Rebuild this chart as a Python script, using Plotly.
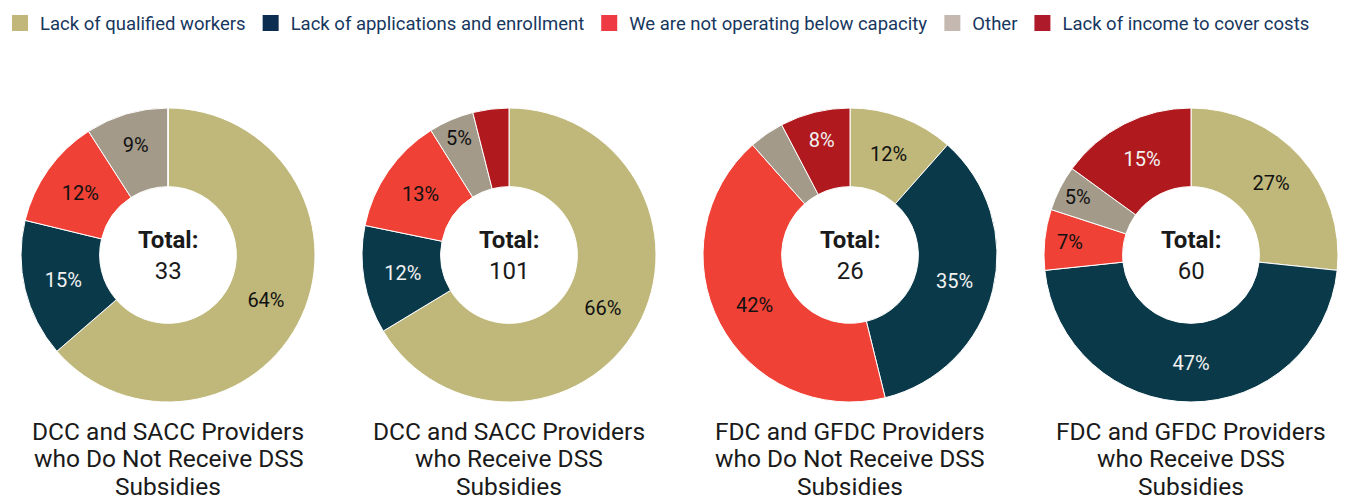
import plotly.graph_objects as go

reasons = [
    "Lack of qualified workers",
    "Lack of applications and enrollment",
    "We are not operating below capacity",
    "Other",
    "Lack of income to cover costs",
]
slice_colors = ["#C0B87A", "#0A3A4A", "#EF4136", "#A39A8A", "#B01A1E"]
legend_colors = ["#C2B77A", "#0B2D4F", "#EE3A43", "#C5B8B0", "#AF1A2A"]
text_colors = ["#111111", "#F2F2F2", "#111111", "#111111", "#F2F2F2"]

groups = [
    ["DCC and SACC Providers", "who Do Not Receive DSS", "Subsidies"],
    ["DCC and SACC Providers", "who Receive DSS", "Subsidies"],
    ["FDC and GFDC Providers", "who Do Not Receive DSS", "Subsidies"],
    ["FDC and GFDC Providers", "who Receive DSS", "Subsidies"],
]
# respondent counts per reason (order as in `reasons`)
dcc_no_dss = [21, 5, 4, 3, 0]
dcc_dss = [67, 12, 13, 5, 4]
fdc_no_dss = [3, 9, 11, 1, 2]
fdc_dss = [16, 28, 4, 3, 9]
counts = [dcc_no_dss, dcc_dss, fdc_no_dss, fdc_dss]
# which slices carry a percentage label
show_label = [
    [1, 1, 1, 1, 0],
    [1, 1, 1, 1, 0],
    [1, 1, 1, 0, 1],
    [1, 1, 1, 1, 1],
]

W, H = 1353, 500
centers = [168, 509, 850, 1191]
radius = 147
cy_top, cy_bot = 108, 402
title_rows = [431, 458.5, 486]

fig = go.Figure()
for vals, flags, cx in zip(counts, show_label, centers):
    fig.add_trace(go.Pie(
        labels=reasons, values=vals, sort=False, direction="clockwise",
        hole=0.465, showlegend=False,
        marker=dict(colors=slice_colors, line=dict(color="white", width=1)),
        texttemplate=["%{percent:.0%}" if f else "" for f in flags],
        textposition="inside", insidetextorientation="horizontal",
        textfont=dict(size=20, color=text_colors, family="Roboto"),
        hoverinfo="label+value+percent",
        domain=dict(x=[(cx - radius) / W, (cx + radius) / W],
                    y=[1 - cy_bot / H, 1 - cy_top / H]),
    ))
    fig.add_annotation(
        x=cx / W, y=1 - (cy_top + cy_bot) / 2 / H, xref="paper", yref="paper",
        xanchor="center", yanchor="middle",
        text=f"<b>Total:</b><br>{sum(vals)}", showarrow=False,
        font=dict(size=24, color="#1A1A1A", family="Roboto"),
    )

for lines, cx in zip(groups, centers):
    for line, ypx in zip(lines, title_rows):
        fig.add_annotation(
            x=cx / W, y=1 - ypx / H, xref="paper", yref="paper",
            xanchor="center", yanchor="middle",
            text=line, showarrow=False,
            font=dict(size=24.5, color="#1A1A1A", family="Roboto"),
        )

# legend entries (legend swatches use a slightly different palette)
for name, col in zip(reasons, legend_colors):
    fig.add_trace(go.Scatter(
        x=[None], y=[None], mode="markers", name=name,
        marker=dict(symbol="square", size=16, color=col),
    ))

fig.update_layout(
    width=W, height=H,
    margin=dict(l=0, r=0, t=0, b=0, autoexpand=False),
    paper_bgcolor="white", plot_bgcolor="white",
    font=dict(family="Roboto", color="#1A1A1A"),
    xaxis=dict(visible=False), yaxis=dict(visible=False),
    legend=dict(orientation="h", x=0, y=0.991, xanchor="left", yanchor="top",
                font=dict(size=18.5, color="#17375E", family="Roboto"),
                itemsizing="trace"),
)

# drop the browser's default page margin so the figure sits at the top-left
fig.write_html("out.html", config={"displayModeBar": False},
               post_script="document.body.style.margin='0';")
